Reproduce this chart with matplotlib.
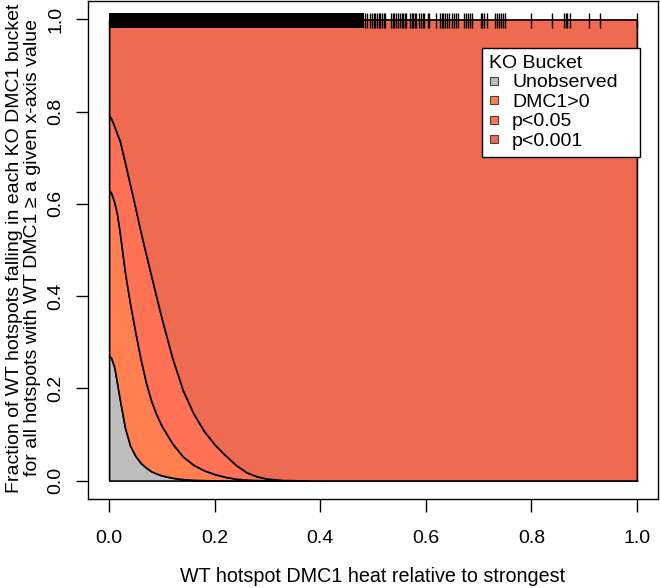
import matplotlib
matplotlib.use("Agg")
import matplotlib.pyplot as plt
from matplotlib.lines import Line2D

plt.rcParams['font.family'] = ['Liberation Sans', 'DejaVu Sans']

# WT heat threshold (x) and cumulative fraction per KO bucket
x_vals = [0.0, 0.004, 0.01, 0.015, 0.02, 0.03, 0.04, 0.05, 0.06, 0.07, 0.08, 0.09,
          0.10, 0.12, 0.14, 0.16, 0.18, 0.20, 0.22, 0.24, 0.26, 0.28, 0.30, 0.33,
          0.36, 0.39, 1.0]
unobserved = [0.270, 0.266, 0.245, 0.212, 0.178, 0.115, 0.075, 0.053, 0.038, 0.028,
              0.020, 0.015, 0.011, 0.006, 0.003, 0.0015, 0.0008, 0.0004, 0.0002,
              0.0001, 0.0, 0.0, 0.0, 0.0, 0.0, 0.0, 0.0]
upto_dmc1 = [0.630, 0.624, 0.603, 0.578, 0.540, 0.452, 0.382, 0.320, 0.262, 0.212,
             0.172, 0.142, 0.118, 0.080, 0.052, 0.034, 0.022, 0.014, 0.008, 0.004,
             0.002, 0.001, 0.0005, 0.0, 0.0, 0.0, 0.0]
upto_p05 = [0.792, 0.785, 0.768, 0.752, 0.738, 0.690, 0.640, 0.590, 0.538, 0.490,
            0.443, 0.396, 0.350, 0.265, 0.195, 0.145, 0.107, 0.078, 0.055, 0.034,
            0.018, 0.009, 0.004, 0.001, 0.0005, 0.0, 0.0]
total = [1.0] * len(x_vals)

buckets = ['Unobserved', 'DMC1>0', 'p<0.05', 'p<0.001']
colors = ['#BEBEBE', '#FF7F50', '#FF7256', '#EE6A50']

# rug of WT hotspot heats (dense part drawn as a solid span)
rug_solid = (0.0, 0.4835)
rug_ticks = [0.485, 0.488, 0.495, 0.498, 0.501, 0.503, 0.508, 0.511, 0.514, 0.517,
             0.520, 0.523, 0.534, 0.537, 0.540, 0.543, 0.548, 0.551, 0.554, 0.557,
             0.560, 0.563, 0.570, 0.573, 0.576, 0.579, 0.582, 0.588, 0.591, 0.594,
             0.597, 0.604, 0.607, 0.620, 0.627, 0.630, 0.633, 0.636, 0.640, 0.644,
             0.650, 0.653, 0.657, 0.661, 0.672, 0.676, 0.680, 0.683, 0.688, 0.704,
             0.707, 0.711, 0.716, 0.732, 0.735, 0.738, 0.742, 0.746, 0.750,
             0.799, 0.840, 0.861, 0.865, 0.868, 0.874, 0.910, 0.931, 1.0]

fig = plt.figure(figsize=(6.6, 5.88), dpi=100)
ax = fig.add_axes([88 / 660, 1 - 499 / 588, 570 / 660, 498 / 588])

layers = [[0.0] * len(x_vals), unobserved, upto_dmc1, upto_p05, total]
for i in range(4):
    ax.fill_between(x_vals, layers[i], layers[i + 1], facecolor=colors[i],
                    edgecolor='black', linewidth=1.2, zorder=2)

rug_lo, rug_hi = 0.981, 1.014
ax.fill_between(rug_solid, rug_lo, rug_hi, color='black', linewidth=0, zorder=3)
ax.vlines(rug_ticks, rug_lo, rug_hi, color='black', linewidth=1.0, zorder=3)

ax.set_xlim(-0.04, 1.04)
ax.set_ylim(-0.04, 1.04)
ticks = [0.0, 0.2, 0.4, 0.6, 0.8, 1.0]
ax.set_xticks(ticks)
ax.set_xticklabels([f'{t:.1f}' for t in ticks])
ax.set_yticks(ticks)
ax.set_yticklabels([f'{t:.1f}' for t in ticks])
ax.tick_params(axis='both', direction='out', length=9, width=1, labelsize=14,
               colors='black')
ax.tick_params(axis='x', pad=13)
ax.tick_params(axis='y', pad=8)
for lab in ax.get_yticklabels():
    lab.set_rotation(90)
    lab.set_va('center')
for s in ax.spines.values():
    s.set_linewidth(1.0)
    s.set_color('black')

fig.text(ax.get_position().x0 + (0.5 + 0.04) / 1.08 * ax.get_position().width,
         1 - 582 / 588, 'WT hotspot DMC1 heat relative to strongest',
         ha='center', va='baseline', fontsize=14.2)
ycen = 1 - 248 / 588
fig.text(19 / 660, ycen, 'Fraction of WT hotspots falling in each KO DMC1 bucket',
         rotation=90, rotation_mode='anchor', ha='center', va='baseline', fontsize=14)
fig.text(37 / 660, ycen, 'for all hotspots with WT DMC1 \u2265 a given x-axis value',
         rotation=90, rotation_mode='anchor', ha='center', va='baseline', fontsize=14)

handles = [Line2D([], [], linestyle='none', marker='s', markersize=5.5,
                  markerfacecolor=c, markeredgecolor='#444444', markeredgewidth=0.8)
           for c in colors]
leg = ax.legend(handles, buckets, title='KO Bucket', loc='upper left',
                bbox_to_anchor=(0.6912, 0.5, 0.2772, 0.4056), mode='expand',
                borderaxespad=0, fontsize=14, title_fontsize=14, alignment='left',
                fancybox=False, framealpha=1, edgecolor='black', handlelength=0.5,
                handletextpad=0.7, borderpad=0.35, labelspacing=0.1)
leg.get_frame().set_linewidth(1.0)
leg.set_zorder(5)

fig.savefig('out.png', dpi=100)
